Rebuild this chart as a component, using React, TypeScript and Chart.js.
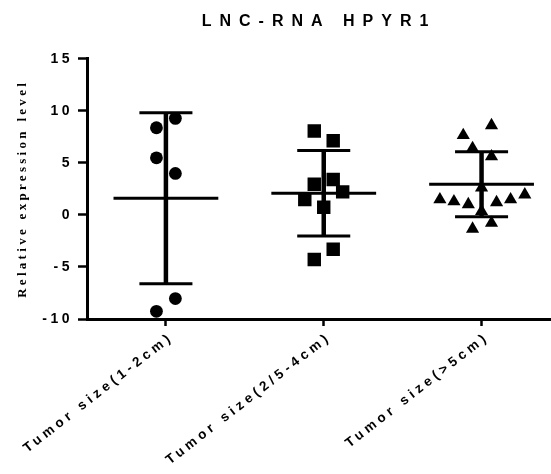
import React, { useEffect, useRef } from 'react';
import { Chart, registerables } from 'chart.js';

Chart.register(...registerables);

const chartTitle = 'LNC-RNA HPYR1';
const yAxisTitle = 'Relative expression level';
const categories = ['Tumor size(1-2cm)', 'Tumor size(2/5-4cm)', 'Tumor size(>5cm)'];
const yTicks = [-10, -5, 0, 5, 10, 15];

// Group 1 (circles)
const group1Values = [9.27, 8.37, 5.48, 3.98, -8.04, -9.26];
const group1Jitter = [0.06, -0.06, -0.06, 0.06, 0.06, -0.06];
// Group 2 (squares)
const group2Values = [8.05, 7.12, 2.95, 3.4, 2.21, 1.48, 0.74, -3.3, -4.29];
const group2Jitter = [-0.06, 0.06, -0.06, 0.06, 0.12, -0.12, 0, 0.06, -0.06];
// Group 3 (triangles)
const group3Values = [8.6, 7.65, 6.4, 5.6, 2.6, 1.47, 1.28, 1.0, 1.2, 1.47, 1.95, 0.35, -0.78, -1.35];
const group3Jitter = [0.063, -0.116, -0.057, 0.063, 0, -0.264, -0.175, -0.084, 0.095, 0.184, 0.274, 0, 0.063, -0.057];

// Summary (mean ± SD)
const means = [1.6, 2.08, 2.95];
const sds = [8.22, 4.1, 3.12];

const meanHalfWidth = 0.332;
const capHalfWidth = 0.168;

function spacingFor(font: string): string {
  const f = font.toLowerCase();
  if (f.includes('serif') && !f.includes('sans')) return '3.3px';
  if (f.includes('16px')) return '8px';
  if (f.includes('13.5px')) return '4px';
  return '3.5px';
}

export default function App() {
  const canvasRef = useRef<HTMLCanvasElement | null>(null);

  useEffect(() => {
    const canvas = canvasRef.current;
    if (!canvas) return;
    const ctx = canvas.getContext('2d') as any;
    const origFill = ctx.fillText.bind(ctx);
    const origMeasure = ctx.measureText.bind(ctx);
    ctx.fillText = (t: string, x: number, y: number, mw?: number) => {
      ctx.letterSpacing = spacingFor(ctx.font);
      if (mw === undefined) origFill(t, x, y);
      else origFill(t, x, y, mw);
    };
    ctx.measureText = (t: string) => {
      ctx.letterSpacing = spacingFor(ctx.font);
      return origMeasure(t);
    };

    const groups = [
      { values: group1Values, jitter: group1Jitter, style: 'circle', radius: 6.4 },
      { values: group2Values, jitter: group2Jitter, style: 'rect', radius: 9.5 },
      { values: group3Values, jitter: group3Jitter, style: 'triangle', radius: 7.6 },
    ];

    const datasets: any[] = [];
    const lineBase = {
      type: 'line',
      showLine: true,
      pointRadius: 0,
      borderColor: '#000',
      backgroundColor: '#000',
      fill: false,
    };
    means.forEach((m, i) => {
      const c = i + 1;
      const s = sds[i];
      datasets.push({ ...lineBase, borderWidth: 3, data: [{ x: c - meanHalfWidth, y: m }, { x: c + meanHalfWidth, y: m }] });
      datasets.push({ ...lineBase, borderWidth: 3, data: [{ x: c - capHalfWidth, y: m + s }, { x: c + capHalfWidth, y: m + s }] });
      datasets.push({ ...lineBase, borderWidth: 3, data: [{ x: c - capHalfWidth, y: m - s }, { x: c + capHalfWidth, y: m - s }] });
      datasets.push({ ...lineBase, borderWidth: 4.5, borderCapStyle: 'butt', data: [{ x: c, y: m - s }, { x: c, y: m + s }] });
    });
    groups.forEach((g, i) => {
      datasets.push({
        type: 'scatter',
        pointStyle: g.style,
        pointRadius: g.radius,
        pointBackgroundColor: '#000',
        pointBorderWidth: 0,
        pointBorderColor: '#000',
        data: g.values.map((v, j) => ({ x: i + 1 + g.jitter[j], y: v })),
      });
    });

    const yTickFont = { family: 'Liberation Sans', size: 14, weight: 'bold' as const };
    const xTickFont = { family: 'Liberation Sans', size: 13.5, weight: 'bold' as const };

    const chart = new Chart(canvas, {
      type: 'scatter',
      data: { datasets },
      options: {
        responsive: false,
        animation: false,
        devicePixelRatio: 1,
        layout: { padding: 0, autoPadding: false },
        plugins: {
          legend: { display: false },
          tooltip: { enabled: false },
          title: {
            display: true,
            text: chartTitle,
            fullSize: false,
            color: '#000',
            font: { family: 'Liberation Sans', size: 16, weight: 'bold' },
            padding: { top: 12, bottom: 27.5 },
          },
        },
        scales: {
          x: {
            type: 'linear',
            min: 0.5,
            max: 3.44,
            afterBuildTicks: (s: any) => {
              s.ticks = categories.map((_, i) => ({ value: i + 1 }));
            },
            afterFit: (s: any) => {
              s.height = 155;
              s.paddingLeft = 0;
              s.paddingRight = 0;
            },
            grid: {
              display: true,
              drawOnChartArea: false,
              drawTicks: true,
              tickLength: 7,
              tickWidth: 2.5,
              tickColor: '#000',
            },
            border: { display: true, color: '#000', width: 3 },
            ticks: {
              color: '#000',
              font: xTickFont,
              minRotation: 38,
              maxRotation: 38,
              autoSkip: false,
              padding: 3,
              labelOffset: 6,
              callback: (v: any) => categories[Math.round(Number(v)) - 1] ?? '',
            },
          },
          y: {
            type: 'linear',
            min: -10,
            max: 15,
            afterBuildTicks: (s: any) => {
              s.ticks = yTicks.map((v) => ({ value: v }));
            },
            afterFit: (s: any) => {
              s.width = 87;
              s.paddingTop = 0;
              s.paddingBottom = 0;
            },
            title: {
              display: true,
              text: yAxisTitle,
              color: '#000',
              font: { family: 'Liberation Serif', size: 13, weight: 'bold' },
              padding: { top: 15, bottom: 0 },
            },
            grid: {
              display: true,
              drawOnChartArea: false,
              drawTicks: true,
              tickLength: 9,
              tickWidth: 2.5,
              tickColor: '#000',
            },
            border: { display: true, color: '#000', width: 3 },
            ticks: {
              color: '#000',
              font: yTickFont,
              padding: 5,
              callback: (v: any) => String(v),
            },
          },
        },
      } as any,
    });

    return () => {
      chart.destroy();
    };
  }, []);

  return (
    <div style={{ position: 'absolute', left: 0, top: 0, width: 551, height: 474, background: '#fff' }}>
      <canvas ref={canvasRef} width={551} height={474} style={{ display: 'block' }} />
    </div>
  );
}
